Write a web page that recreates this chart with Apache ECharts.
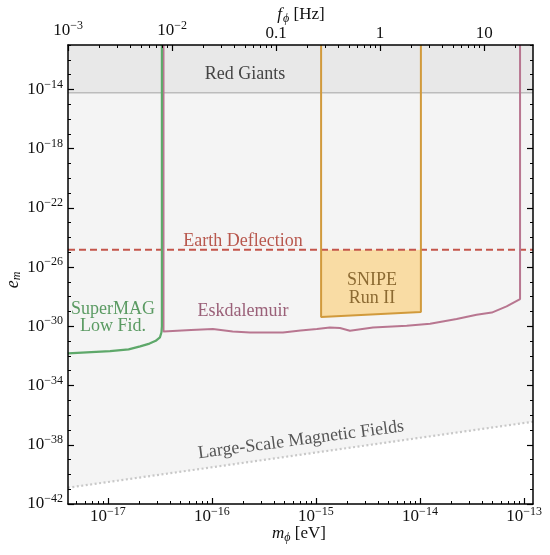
<!DOCTYPE html>
<html>
<head>
<meta charset="utf-8">
<script src="https://cdn.jsdelivr.net/npm/echarts@6/dist/echarts.min.js"></script>
<style>
html, body { margin: 0; padding: 0; background: #fff; }
#main { width: 550px; height: 555px; }
</style>
</head>
<body>
<div id="main"></div>
<script>
// axis ranges (m in eV, e_m dimensionless)
const massMin = 4.13e-18, massMax = 1.22e-13;
const emMin = 1e-42, emMax = 1e-11;
const hzPerEv = 2.418e14;

// tick labels (exponents)
const massTicks = [-17, -16, -15, -14, -13];
const freqTicks = [-3, -2, -1, 0, 1];
const freqLabels = ["10^-3", "10^-2", "0.1", "1", "10"];
const emTicks = [-42, -38, -34, -30, -26, -22, -18, -14];

// SuperMAG low fidelity
const superMagMass = [4.12e-18, 1.05e-17, 1.58e-17, 2.04e-17, 2.51e-17, 2.88e-17, 3.16e-17, 3.27e-17, 3.30e-17, 3.30e-17];
const superMagEm = [1.5e-32, 2.1e-32, 2.8e-32, 4.4e-32, 6.8e-32, 1.05e-31, 1.8e-31, 4.0e-31, 1e-30, 1e-11];

// Eskdalemuir
const eskMass = [3.42e-17, 3.42e-17, 6.3e-17, 1.02e-16, 1.58e-16, 2.32e-16, 4.82e-16, 7.1e-16, 1.02e-15, 1.36e-15, 1.70e-15, 2.12e-15, 3.53e-15, 7.45e-15, 1.25e-14, 2.25e-14, 3.5e-14, 4.9e-14, 6.8e-14, 9.16e-14, 9.16e-14];
const eskEm = [1e-11, 4.5e-31, 5.6e-31, 6.5e-31, 4.5e-31, 3.8e-31, 3.8e-31, 5.2e-31, 6.5e-31, 8.3e-31, 7.6e-31, 5.0e-31, 8.3e-31, 1.1e-30, 1.5e-30, 3.1e-30, 6.0e-30, 8.5e-30, 2.2e-29, 6.9e-29, 1e-11];

// SNIPE Run II
const snipeMass = [1.12e-15, 1.12e-15, 1.02e-14, 1.02e-14];
const snipeEm = [1e-11, 4.3e-30, 9.1e-30, 1e-11];

// Earth deflection, red giants, large-scale magnetic fields
const earthEm = 1.5e-25;
const redGiantEm = 6e-15;
const lsmfMass = [4.12e-18, 1.22e-13];
const lsmfEm = [1.26e-41, 3.6e-37];

const lg = Math.log10;
const FONT = "'Liberation Serif', 'DejaVu Serif', serif";
const pts = (xs, ys) => xs.map((x, i) => [lg(x), lg(ys[i])]);

// minor tick positions (log space)
function minorTicks(lo, hi) {
	const out = [];
	for (let n = Math.floor(lo); n <= Math.ceil(hi); n++) {
		for (let k = 2; k <= 9; k++) {
			const v = n + lg(k);
			if (v > lo && v < hi) out.push(v);
		}
	}
	return out;
}

const rich = {
	b: { fontSize: 17, fontFamily: FONT, color: "#111" },
	s: { fontSize: 12, fontFamily: FONT, color: "#111", padding: [0, 0, 10, 0] },
};
function pow10(v) {
	return "{b|10}{s|" + (v < 0 ? "\u2212" : "") + Math.abs(v) + "}";
}

const xLo = lg(massMin), xHi = lg(massMax);
const fLo = lg(massMin * hzPerEv), fHi = lg(massMax * hzPerEv);
const yLo = lg(emMin), yHi = lg(emMax);

const chart = echarts.init(document.getElementById("main"));

const lineAxis = { show: true, onZero: false, lineStyle: { color: "#000", width: 1.5 } };
const noLine = { show: false, onZero: false };

const option = {
	animation: false,
	grid: { left: 68, right: 17, top: 45, bottom: 51, containLabel: false },
	xAxis: [
		{
			type: "value", position: "bottom", min: xLo, max: xHi, z: 10,
			axisLine: lineAxis, splitLine: { show: false },
			axisTick: { inside: true, length: 6, lineStyle: { color: "#000", width: 1.2 }, customValues: massTicks },
			axisLabel: { customValues: massTicks, formatter: pow10, rich: rich, margin: 2 },
		},
		{
			type: "value", position: "bottom", min: xLo, max: xHi, z: 10,
			axisLine: noLine, splitLine: { show: false }, axisLabel: { show: false },
			axisTick: { inside: true, length: 3, lineStyle: { color: "#000", width: 1 }, customValues: minorTicks(xLo, xHi) },
		},
		{
			type: "value", position: "top", min: fLo, max: fHi, z: 10,
			axisLine: lineAxis, splitLine: { show: false },
			axisTick: { inside: true, length: 6, lineStyle: { color: "#000", width: 1.2 }, customValues: freqTicks },
			axisLabel: {
				customValues: freqTicks, rich: rich, margin: 3,
				formatter: function(v) {
					const t = freqLabels[freqTicks.indexOf(Math.round(v))];
					return t.indexOf("^") > 0 ? pow10(Math.round(v)) : "{b|" + t + "}";
				},
			},
		},
		{
			type: "value", position: "top", min: fLo, max: fHi, z: 10,
			axisLine: noLine, splitLine: { show: false }, axisLabel: { show: false },
			axisTick: { inside: true, length: 3, lineStyle: { color: "#000", width: 1 }, customValues: minorTicks(fLo, fHi) },
		},
	],
	yAxis: [
		{
			type: "value", position: "left", min: yLo, max: yHi, z: 10,
			axisLine: lineAxis, splitLine: { show: false },
			axisTick: { inside: true, length: 6, lineStyle: { color: "#000", width: 1.2 }, customValues: emTicks },
			axisLabel: { customValues: emTicks, formatter: pow10, rich: rich, margin: 5 },
		},
		{
			type: "value", position: "left", min: yLo, max: yHi, interval: 1, z: 10,
			axisLine: noLine, splitLine: { show: false }, axisLabel: { show: false },
			axisTick: { inside: true, length: 3, lineStyle: { color: "#000", width: 1 } },
		},
		{
			type: "value", position: "right", min: yLo, max: yHi, z: 10,
			axisLine: lineAxis, splitLine: { show: false }, axisLabel: { show: false },
			axisTick: { inside: true, length: 6, lineStyle: { color: "#000", width: 1.2 }, customValues: emTicks },
		},
		{
			type: "value", position: "right", min: yLo, max: yHi, interval: 1, z: 10,
			axisLine: noLine, splitLine: { show: false }, axisLabel: { show: false },
			axisTick: { inside: true, length: 3, lineStyle: { color: "#000", width: 1 } },
		},
	],
	series: [
		// Large-scale magnetic fields, shaded above
		{
			type: "line", symbol: "none", z: 1,
			data: pts(lsmfMass, lsmfEm),
			lineStyle: { color: "#c8c8c8", width: 2.2, type: [2, 2.5] },
			areaStyle: { origin: "end", color: "#f4f4f4", opacity: 1 },
		},
		// Red giants
		{
			type: "line", symbol: "none", z: 2,
			data: [[xLo, lg(redGiantEm)], [xHi, lg(redGiantEm)]],
			lineStyle: { color: "#bcbcbc", width: 1.6 },
			areaStyle: { origin: "end", color: "#e8e8e8", opacity: 1 },
		},
		// SNIPE fill
		{
			type: "custom", z: 3,
			data: [[lg(snipeMass[0]), lg(earthEm)]],
			renderItem: function(params, api) {
				const poly = [
					api.coord([lg(snipeMass[0]), lg(earthEm)]),
					api.coord([lg(snipeMass[3]), lg(earthEm)]),
					api.coord([lg(snipeMass[2]), lg(snipeEm[2])]),
					api.coord([lg(snipeMass[1]), lg(snipeEm[1])]),
				];
				return { type: "polygon", shape: { points: poly }, style: { fill: "#f9dca4" } };
			},
		},
		// Earth deflection
		{
			type: "line", symbol: "none", z: 4,
			data: [[xLo, lg(earthEm)], [xHi, lg(earthEm)]],
			lineStyle: { color: "#c4554b", width: 2, type: [7, 4] },
		},
		// SNIPE outline
		{
			type: "line", symbol: "none", z: 5,
			data: pts(snipeMass, snipeEm),
			lineStyle: { color: "#d19a3c", width: 2 },
		},
		// Eskdalemuir
		{
			type: "line", symbol: "none", z: 5,
			data: pts(eskMass, eskEm),
			lineStyle: { color: "#b87690", width: 2 },
		},
		// SuperMAG
		{
			type: "line", symbol: "none", z: 6,
			data: pts(superMagMass, superMagEm),
			lineStyle: { color: "#5ea86a", width: 2.2 },
		},
	],
	graphic: [
		{ type: "text", x: 245, y: 74, z: 10, style: { text: "Red Giants", fill: "#444", fontSize: 18, fontFamily: FONT, align: "center", verticalAlign: "middle" } },
		{ type: "text", x: 243, y: 241, z: 10, style: { text: "Earth Deflection", fill: "#b8584e", fontSize: 18, fontFamily: FONT, align: "center", verticalAlign: "middle" } },
		{ type: "text", x: 243, y: 311, z: 10, style: { text: "Eskdalemuir", fill: "#9a6078", fontSize: 18, fontFamily: FONT, align: "center", verticalAlign: "middle" } },
		{ type: "text", x: 113, y: 318, z: 10, style: { text: "SuperMAG\nLow Fid.", fill: "#5a9a62", fontSize: 18, lineHeight: 17, fontFamily: FONT, align: "center", verticalAlign: "middle" } },
		{ type: "text", x: 372, y: 289, z: 10, style: { text: "SNIPE\nRun II", fill: "#8c6a32", fontSize: 18, lineHeight: 18, fontFamily: FONT, align: "center", verticalAlign: "middle" } },
		{ type: "text", x: 301, y: 440, rotation: 7.5 * Math.PI / 180, z: 10, style: { text: "Large-Scale Magnetic Fields", fill: "#555", fontSize: 18, fontFamily: FONT, align: "center", verticalAlign: "middle" } },
		{
			type: "text", x: 301, y: 15, z: 10,
			style: {
				text: "{i|f}{u|\u03d5}{n| [Hz]}", align: "center", verticalAlign: "middle",
				rich: {
					i: { fontSize: 17, fontStyle: "italic", fontFamily: FONT, fill: "#111" },
					u: { fontSize: 12, fontStyle: "italic", fontFamily: FONT, fill: "#111", padding: [7, 0, 0, 1] },
					n: { fontSize: 17, fontFamily: FONT, fill: "#111" },
				},
			},
		},
		{
			type: "text", x: 299, y: 534, z: 10,
			style: {
				text: "{i|m}{u|\u03d5}{n| [eV]}", align: "center", verticalAlign: "middle",
				rich: {
					i: { fontSize: 17, fontStyle: "italic", fontFamily: FONT, fill: "#111" },
					u: { fontSize: 12, fontStyle: "italic", fontFamily: FONT, fill: "#111", padding: [7, 0, 0, 0] },
					n: { fontSize: 17, fontFamily: FONT, fill: "#111" },
				},
			},
		},
		{
			type: "text", x: 13, y: 280, rotation: Math.PI / 2, z: 10,
			style: {
				text: "{i|e}{u|m}", align: "center", verticalAlign: "middle",
				rich: {
					i: { fontSize: 18, fontStyle: "italic", fontFamily: FONT, fill: "#111" },
					u: { fontSize: 12, fontStyle: "italic", fontFamily: FONT, fill: "#111", padding: [7, 0, 0, 0] },
				},
			},
		},
	],
};

chart.setOption(option);
</script>
</body>
</html>
